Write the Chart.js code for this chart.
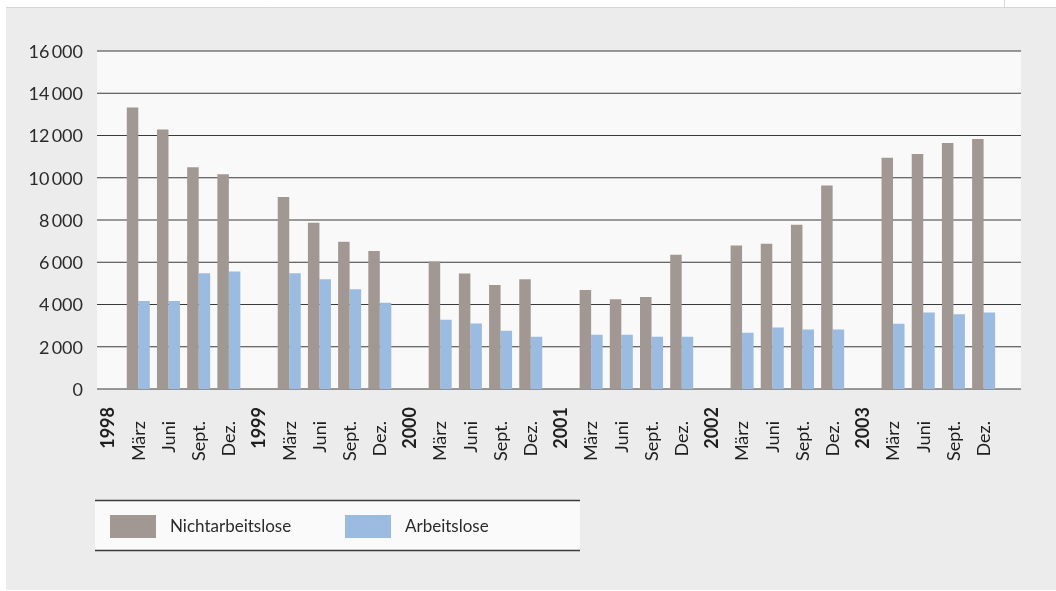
<!DOCTYPE html>
<html lang="de">
<head>
<meta charset="utf-8">
<title>Nichtarbeitslose und Arbeitslose 1998–2003</title>
<script src="https://cdn.jsdelivr.net/npm/chart.js@4.4.1/dist/chart.umd.min.js"></script>
<style>
  html, body { margin: 0; padding: 0; background: #ffffff; }
  #wrap { position: relative; width: 1056px; height: 591px; }
  canvas { display: block; }
</style>
</head>
<body>
<div id="wrap"><canvas id="chart" width="1056" height="591"></canvas></div>
<script>
// Quarterly figures, one group per year; the year slots stay empty.
const categories = [
  '1998', 'März', 'Juni', 'Sept.', 'Dez.',
  '1999', 'März', 'Juni', 'Sept.', 'Dez.',
  '2000', 'März', 'Juni', 'Sept.', 'Dez.',
  '2001', 'März', 'Juni', 'Sept.', 'Dez.',
  '2002', 'März', 'Juni', 'Sept.', 'Dez.',
  '2003', 'März', 'Juni', 'Sept.', 'Dez.'
];
const nichtarbeitslose = [
  null, 13330, 12280, 10500, 10160,
  null,  9090,  7870,  6970,  6530,
  null,  6030,  5470,  4920,  5200,
  null,  4690,  4250,  4350,  6360,
  null,  6790,  6880,  7770,  9630,
  null, 10950, 11130, 11650, 11840
];
const arbeitslose = [
  null, 4170, 4170, 5480, 5560,
  null, 5480, 5200, 4720, 4080,
  null, 3280, 3100, 2760, 2470,
  null, 2570, 2570, 2470, 2470,
  null, 2660, 2910, 2820, 2820,
  null, 3090, 3620, 3540, 3620
];
const yTicks = [0, 2000, 4000, 6000, 8000, 10000, 12000, 14000, 16000];
const seriesNames = ['Nichtarbeitslose', 'Arbeitslose'];
const seriesColors = ['#a29893', '#9bbbe1'];

const FONT = 'Lato, "Liberation Sans", sans-serif';
const PLOT = { left: 97, right: 1021 };

function fmt(v) {
  if (v < 1000) return String(v);
  const th = Math.floor(v / 1000);
  const rest = String(v % 1000).padStart(3, '0');
  return th + '\u2009' + rest;
}

// Page frame, plot background, gridlines and value labels
const backdrop = {
  id: 'backdrop',
  beforeDraw(chart) {
    const ctx = chart.ctx;
    const y = chart.scales.y;
    ctx.save();
    ctx.fillStyle = '#ffffff';
    ctx.fillRect(0, 0, chart.width, chart.height);
    ctx.fillStyle = '#ececec';
    ctx.fillRect(6, 7, chart.width - 6, 583);
    ctx.strokeStyle = '#d6d6d6';
    ctx.lineWidth = 1;
    ctx.beginPath();
    ctx.moveTo(6, 7.5); ctx.lineTo(chart.width, 7.5);
    ctx.moveTo(1004.5, 0); ctx.lineTo(1004.5, 7);
    ctx.stroke();

    const top = y.getPixelForValue(yTicks[yTicks.length - 1]);
    const bottom = y.getPixelForValue(0);
    ctx.fillStyle = '#f9f9f9';
    ctx.fillRect(PLOT.left, top, PLOT.right - PLOT.left, bottom - top);

    ctx.strokeStyle = '#3a3a3a';
    ctx.lineWidth = 1;
    ctx.font = '18px ' + FONT;
    ctx.fillStyle = '#2b2b2b';
    ctx.textAlign = 'right';
    ctx.textBaseline = 'middle';
    yTicks.forEach(v => {
      const py = y.getPixelForValue(v);
      ctx.beginPath();
      ctx.moveTo(PLOT.left, py);
      ctx.lineTo(PLOT.right, py);
      ctx.stroke();
      ctx.fillText(fmt(v), 83, py + 1);
    });
    ctx.restore();
  }
};

// Rotated category labels and the legend strip
const annotations = {
  id: 'annotations',
  afterDraw(chart) {
    const ctx = chart.ctx;
    const x = chart.scales.x;
    ctx.save();
    ctx.fillStyle = '#1e1e1e';
    ctx.textAlign = 'right';
    ctx.textBaseline = 'middle';
    categories.forEach((label, i) => {
      const isYear = /^\d{4}$/.test(label);
      const px = x.getPixelForValue(i) + 0.5;
      ctx.save();
      ctx.translate(px, isYear ? 407 : 421);
      ctx.rotate(-Math.PI / 2);
      ctx.font = (isYear ? 'bold ' : '') + '18px ' + FONT;
      ctx.fillText(label, 0, 0);
      ctx.restore();
    });

    // legend box
    ctx.fillStyle = '#fafafa';
    ctx.fillRect(95, 500, 485, 51);
    ctx.strokeStyle = '#3a3a3a';
    ctx.lineWidth = 1.5;
    ctx.beginPath();
    ctx.moveTo(95, 500.5); ctx.lineTo(580, 500.5);
    ctx.moveTo(95, 550.5); ctx.lineTo(580, 550.5);
    ctx.stroke();
    const slots = [110, 345];
    chart.data.datasets.forEach((ds, i) => {
      ctx.fillStyle = ds.backgroundColor;
      ctx.fillRect(slots[i], 515, 46, 23);
      ctx.fillStyle = '#2a2a2a';
      ctx.font = '17px ' + FONT;
      ctx.textAlign = 'left';
      ctx.textBaseline = 'middle';
      ctx.fillText(ds.label, slots[i] + 60, 527);
    });
    ctx.restore();
  }
};

new Chart(document.getElementById('chart'), {
  type: 'bar',
  data: {
    labels: categories,
    datasets: [
      { label: seriesNames[0], data: nichtarbeitslose, backgroundColor: seriesColors[0] },
      { label: seriesNames[1], data: arbeitslose, backgroundColor: seriesColors[1] }
    ]
  },
  options: {
    responsive: false,
    animation: false,
    devicePixelRatio: 1,
    layout: { padding: { left: 93, right: 57.3, top: 51, bottom: 202 } },
    datasets: { bar: { categoryPercentage: 0.762, barPercentage: 1.0, borderWidth: 0 } },
    scales: {
      x: { type: 'category', display: false, offset: true },
      y: { display: false, min: 0, max: 16000 }
    },
    plugins: { legend: { display: false }, tooltip: { enabled: false } }
  },
  plugins: [backdrop, annotations]
});
</script>
</body>
</html>
